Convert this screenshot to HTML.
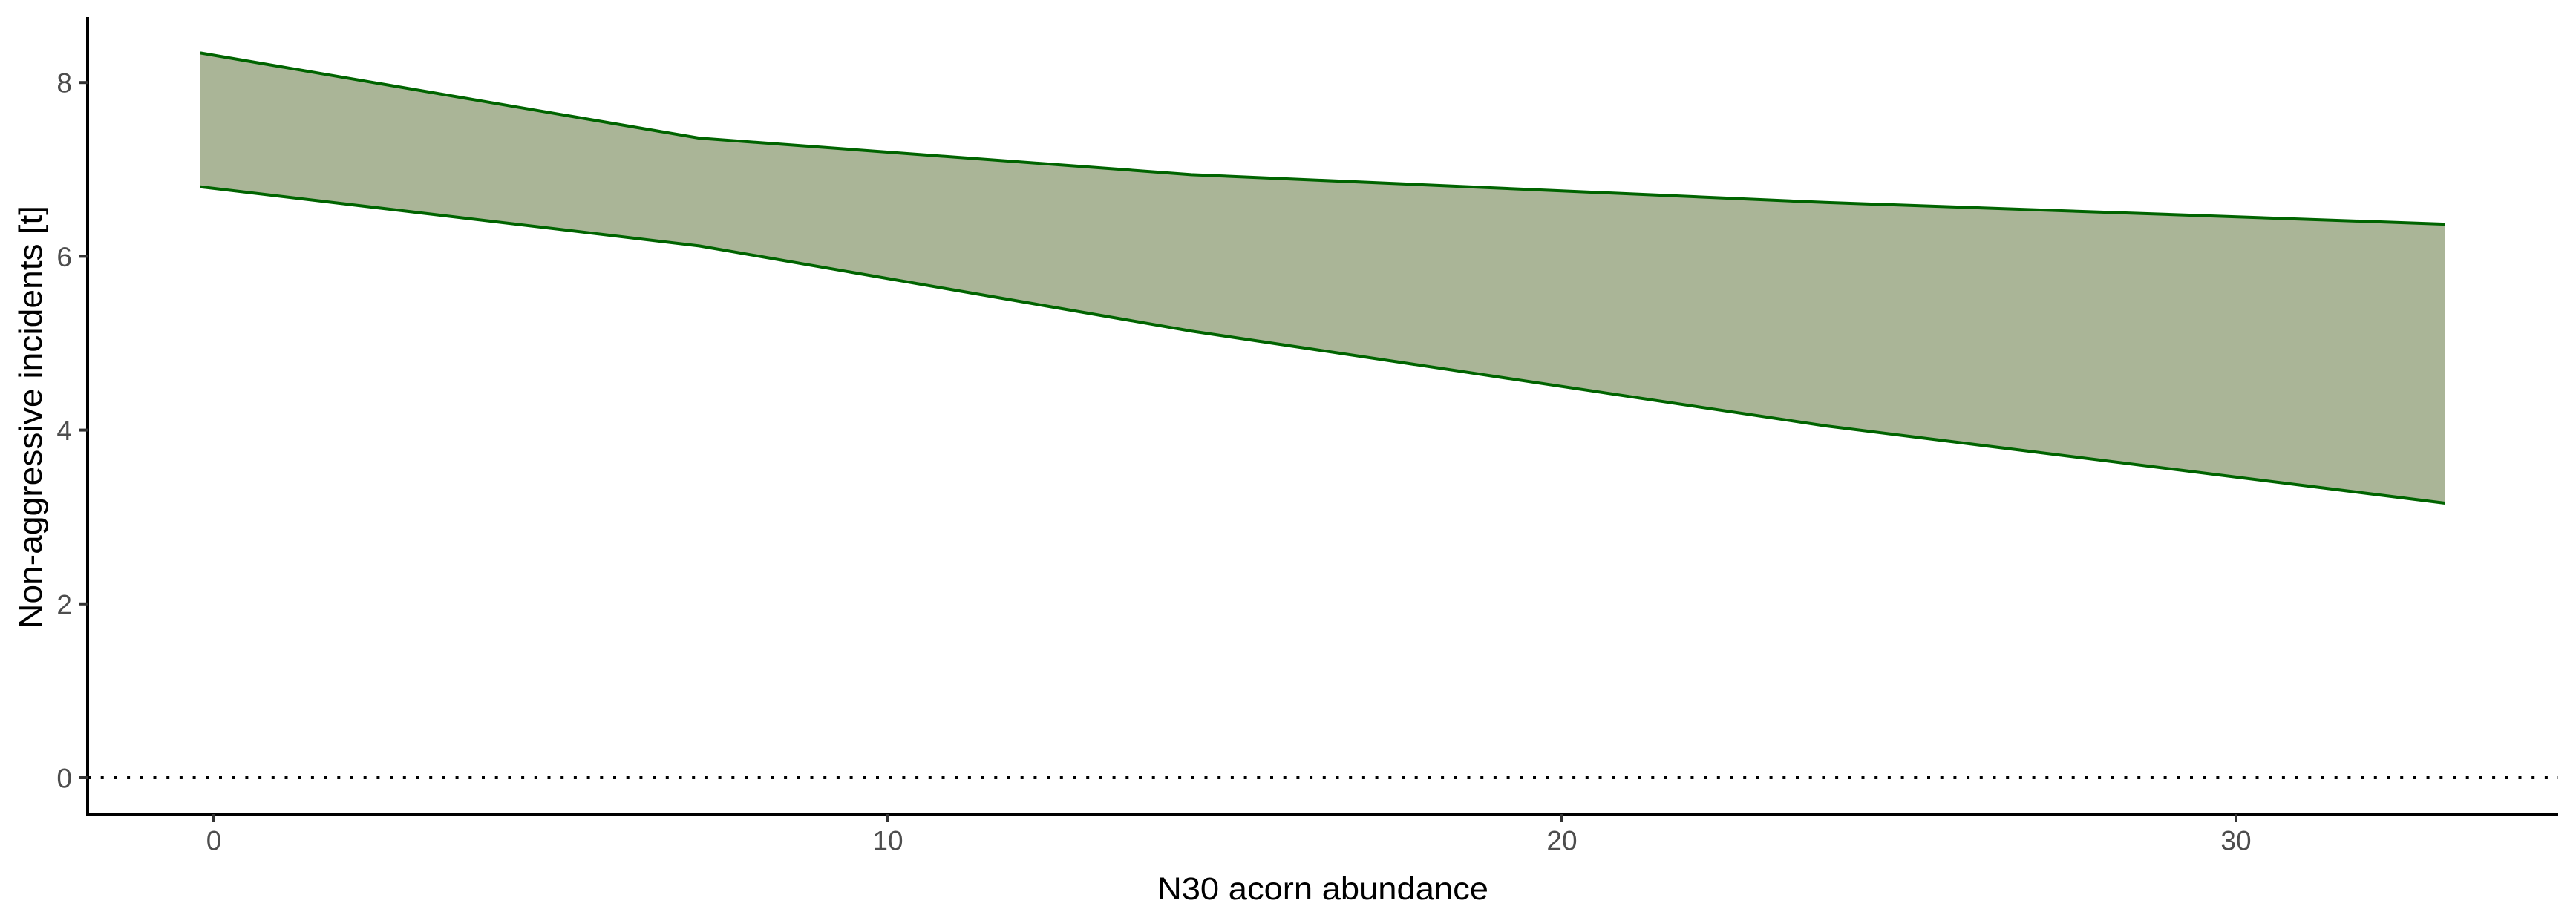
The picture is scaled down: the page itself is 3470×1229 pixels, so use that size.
<!DOCTYPE html>
<html><head><meta charset="utf-8"><style>
html,body{margin:0;padding:0;background:#fff;}
svg{display:block;}
text{font-family:"Liberation Sans",Arial,sans-serif;}
</style></head><body>
<svg id="chart" width="3470" height="1229" viewBox="0 0 3470 1229" xmlns="http://www.w3.org/2000/svg">
<g id="plot"></g>
</svg>
<script>
const xValues = [-0.2, 7.2, 14.5, 23.9, 33.1];
const upperValues = [8.34, 7.36, 6.94, 6.62, 6.37];
const lowerValues = [6.80, 6.12, 5.14, 4.05, 3.16];
const xTicks = [0, 10, 20, 30];
const yTicks = [0, 2, 4, 6, 8];

const NS = "http://www.w3.org/2000/svg";
const g = document.getElementById('plot');
function X(v){ return 288 + v * 90.8; }
function Y(v){ return 1048 - v * 117.1; }
function mk(tag, attrs){ const e=document.createElementNS(NS,tag); for(const k in attrs) e.setAttribute(k,attrs[k]); g.appendChild(e); return e; }

let d = xValues.map((x,i)=>(i?'L':'M')+X(x)+','+Y(upperValues[i])).join(' ');
for(let i=xValues.length-1;i>=0;i--) d += ' L'+X(xValues[i])+','+Y(lowerValues[i]);
d += ' Z';
const rib = mk('path',{d:d, fill:'#aab597', stroke:'none'});


const up = mk('polyline',{points:xValues.map((x,i)=>X(x)+','+Y(upperValues[i])).join(' '), fill:'none', stroke:'#006400', 'stroke-width':4});


const lo = mk('polyline',{points:xValues.map((x,i)=>X(x)+','+Y(lowerValues[i])).join(' '), fill:'none', stroke:'#006400', 'stroke-width':4});



const zl = mk('line',{x1:118, x2:3446, y1:Y(0), y2:Y(0), stroke:'#000', 'stroke-width':4, 'stroke-dasharray':'4 13.7'});



const ya = mk('line',{x1:118,x2:118,y1:23,y2:1098,stroke:'#000','stroke-width':4});


const xa = mk('line',{x1:116,x2:3446,y1:1097,y2:1097,stroke:'#000','stroke-width':4});



yTicks.forEach(v=>{
  const t = mk('line',{x1:107,x2:118,y1:Y(v),y2:Y(v),stroke:'#333','stroke-width':4});
  
  
  const l = mk('text',{x:97,y:Y(v)+13.5,'text-anchor':'end','font-size':37,fill:'#4d4d4d'});
  l.textContent = v;
  
  
});
xTicks.forEach(v=>{
  const t = mk('line',{x1:X(v),x2:X(v),y1:1097,y2:1108,stroke:'#333','stroke-width':4});
  
  
  const l = mk('text',{x:X(v),y:1145.5,'text-anchor':'middle','font-size':37,fill:'#4d4d4d'});
  l.textContent = v;
  
  
});

const xt = mk('text',{x:1782,y:1212,'text-anchor':'middle','font-size':43,fill:'#000',textLength:446,lengthAdjust:'spacingAndGlyphs'});
xt.textContent = 'N30 acorn abundance';


const yt = mk('text',{x:0,y:0,'text-anchor':'middle','font-size':44,fill:'#000',textLength:570,lengthAdjust:'spacingAndGlyphs',transform:'translate(56,562) rotate(-90)'});
yt.textContent = 'Non-aggressive incidents [t]';


</script>
</body></html>
